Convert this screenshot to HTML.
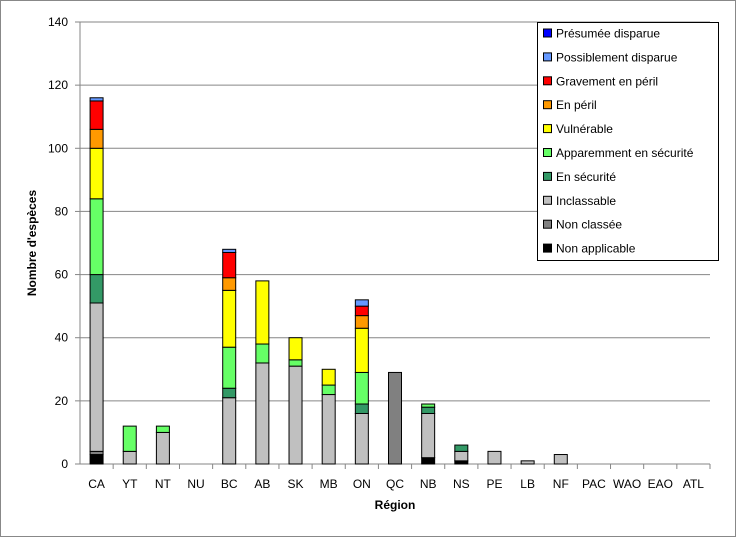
<!DOCTYPE html>
<html><head><meta charset="utf-8"><style>
body{margin:0;background:#fff;font-family:"Liberation Sans",sans-serif}
svg text{font-family:"Liberation Sans",sans-serif;font-size:12px;fill:#000}
</style></head><body>
<svg id="c" width="736" height="537">
<rect x="0.5" y="0.5" width="735" height="536" fill="#fff" stroke="#888"/>
</svg>
<script>
const categories=["CA","YT","NT","NU","BC","AB","SK","MB","ON","QC","NB","NS","PE","LB","NF","PAC","WAO","EAO","ATL"];
const seriesNames=["Non applicable","Non classée","Inclassable","En sécurité","Apparemment en sécurité","Vulnérable","En péril","Gravement en péril","Possiblement disparue","Présumée disparue"];
const nonApplicable=[3,0,0,0,0,0,0,0,0,0,2,1,0,0,0,0,0,0,0];
const nonClassee=[1,0,0,0,0,0,0,0,0,29,0,0,0,0,0,0,0,0,0];
const inclassable=[47,4,10,0,21,32,31,22,16,0,14,3,4,1,3,0,0,0,0];
const enSecurite=[9,0,0,0,3,0,0,0,3,0,2,2,0,0,0,0,0,0,0];
const apparemment=[24,8,2,0,13,6,2,3,10,0,1,0,0,0,0,0,0,0,0];
const vulnerable=[16,0,0,0,18,20,7,5,14,0,0,0,0,0,0,0,0,0,0];
const enPeril=[6,0,0,0,4,0,0,0,4,0,0,0,0,0,0,0,0,0,0];
const gravement=[9,0,0,0,8,0,0,0,3,0,0,0,0,0,0,0,0,0,0];
const possiblement=[1,0,0,0,1,0,0,0,2,0,0,0,0,0,0,0,0,0,0];
const presumee=[0,0,0,0,0,0,0,0,0,0,0,0,0,0,0,0,0,0,0];
const yTicks=[0,20,40,60,80,100,120,140];
const series=[nonApplicable,nonClassee,inclassable,enSecurite,apparemment,vulnerable,enPeril,gravement,possiblement,presumee];
const colors=["#000000","#808080","#c0c0c0","#339966","#66ff66","#ffff00","#ff9900","#ff0000","#6699ff","#0000ff"];
const svg=document.getElementById('c');const NS="http://www.w3.org/2000/svg";
const X0=80,X1=710,Y0=464,Y1=22,yMax=140;
const band=(X1-X0)/categories.length;
const y=v=>Y0-(v/yMax)*(Y0-Y1);
const xc=i=>X0+band*(i+0.5);
function mk(t,a,txt){const e=document.createElementNS(NS,t);for(const k in a)e.setAttribute(k,a[k]);if(txt!==undefined)e.textContent=txt;svg.appendChild(e);return e;}
yTicks.forEach(t=>{
 if(t>0){const g=mk('line',{x1:X0,x2:X1,y1:y(t),y2:y(t),stroke:'#868686','stroke-width':1});
 
 }
 const l=mk('text',{x:X0-12,y:y(t)+4,'text-anchor':'end'},t);
 
 
 const tk=mk('line',{x1:X0-5,x2:X0,y1:y(t),y2:y(t),stroke:'#868686'});
 
 
});
const ya=mk('line',{x1:X0,x2:X0,y1:Y1,y2:Y0,stroke:'#868686'});


const xa=mk('line',{x1:X0,x2:X1,y1:Y0,y2:Y0,stroke:'#868686'});


categories.forEach((c,i)=>{
 const tk=mk('line',{x1:X0+band*(i+1),x2:X0+band*(i+1),y1:Y0,y2:Y0+5,stroke:'#868686'});
 
 
 const l=mk('text',{x:xc(i),y:Y0+24,'text-anchor':'middle'},c);
 
 
 let acc=0;
 series.forEach((s,k)=>{
  const v=s[i];if(!v)return;
  const r=mk('rect',{x:xc(i)-6.5,width:13,y:y(acc+v),height:y(acc)-y(acc+v),fill:colors[k],stroke:'#000','stroke-width':1});
  
  
  acc+=v;
 });
});
const yt=mk('text',{x:0,y:0,transform:'translate(36,243) rotate(-90)','text-anchor':'middle','font-weight':'bold'},"Nombre d'espèces");


const xt=mk('text',{x:395,y:509,'text-anchor':'middle','font-weight':'bold'},"Région");


const lg=mk('rect',{x:537.5,y:22.5,width:181,height:238,fill:'#fff',stroke:'#000'});


for(let k=9;k>=0;k--){
 const row=9-k, yy=33+row*23.9;
 const sw=mk('rect',{x:543.5,y:yy-4,width:8,height:8,fill:colors[k],stroke:'#000'});
 
 
 const t=mk('text',{x:556,y:yy+4.5},seriesNames[k]);
 
 
}
</script>
</body></html>
